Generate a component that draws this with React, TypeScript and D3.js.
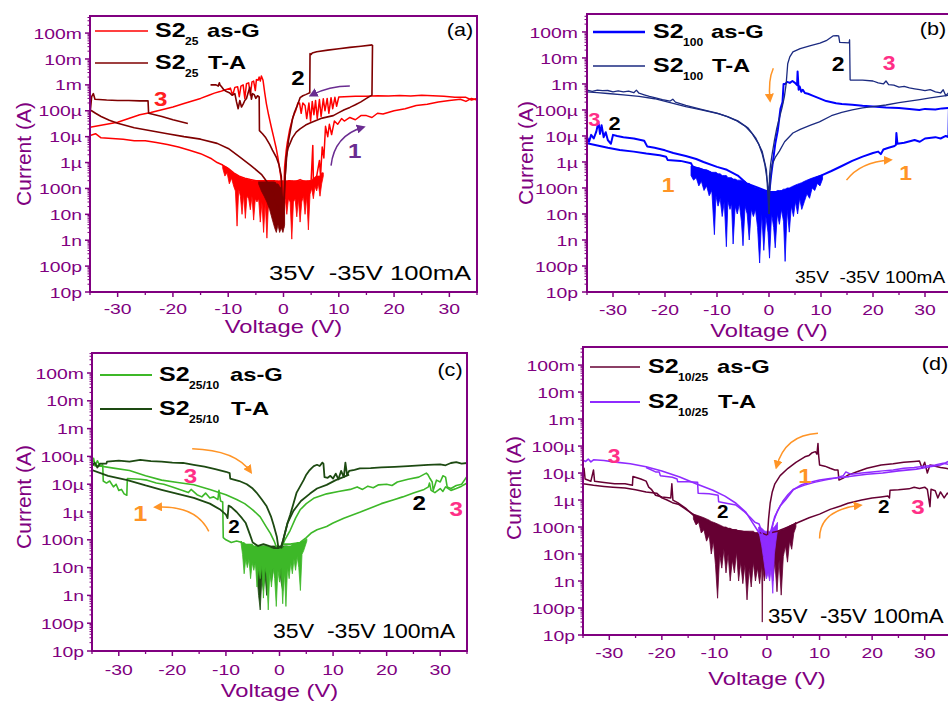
import * as d3 from "d3";

type P = [number, number];
type B = [number, number, number];

// ---------- (a) S2_25 ----------
const aG1: P[] = [[0.3,1.5e-7],[1,2e-7],[2,1.8e-7],[3,2.2e-7],[4,1.8e-7],[5,2e-7],[5.3,4.6e-6],[5.4,2.2e-7],[6,3e-7],[6.5,1.2e-6],[6.7,3e-7],[7,4e-6],[7.3,1.5e-6],[7.6,2.5e-5],[8,1e-5],[8.3,3e-5],[8.7,1.2e-5],[9.2,4e-5],[9.8,3e-5],[10.5,5e-5],[11,4e-5],[12,5.5e-5],[13,4.5e-5],[14,6.5e-5],[15,6.5e-5],[16,5.5e-5],[17,8e-5],[18,7.5e-5],[20,1e-4],[22,1.2e-4],[24,1.6e-4],[26,1.8e-4],[28,2.2e-4],[30,2.5e-4],[32,2.8e-4],[33,2.3e-4],[34,3e-4],[35,2.6e-4]];
const aG2: P[] = [[35,3e-4],[34,2.6e-4],[33,3.3e-4],[31,3.3e-4],[29,3.6e-4],[27,3.8e-4],[25,4e-4],[23,3.7e-4],[21,3.9e-4],[19,3.7e-4],[17,3.8e-4],[15,3.6e-4],[13,3.6e-4],[11,3.5e-4],[10,3.4e-4],[9.6,1.5e-4],[9.3,3.3e-4],[8.9,1.2e-4],[8.6,3.2e-4],[8.2,8e-5],[7.9,3e-4],[7.5,1e-4],[7.2,2.9e-4],[6.8,6e-5],[6.5,2.7e-4],[6.1,5e-5],[5.8,2.5e-4],[5.5,7e-5],[5.2,2.3e-4],[4.9,4e-5],[4.6,2e-4],[4.2,5e-5],[3.9,1.6e-4],[3.5,2e-4],[3.2,8e-5],[2.9,2e-4],[2.6,2e-4],[2.2,1e-4],[1.7,5.7e-5],[1.1,1.8e-5],[0.7,6e-6],[0.5,3e-6],[0.2,7e-7],[0.05,5e-8]];
const aG3: P[] = [[-0.05,5e-8],[-0.5,3e-7],[-1,1.5e-6],[-1.3,3.4e-6],[-1.8,1e-5],[-2.2,2.3e-5],[-2.7,7e-5],[-3.1,1.9e-4],[-3.4,5e-4],[-3.7,1.5e-3],[-4,2.2e-3],[-4.2,1.4e-3],[-4.4,2e-3],[-4.6,1.5e-3],[-4.9,1.6e-3],[-5.1,6e-4],[-5.4,1.4e-3],[-5.7,1.3e-3],[-6,4e-4],[-6.3,1.2e-3],[-6.7,1.1e-3],[-7,3e-4],[-7.3,1e-3],[-7.7,9e-4],[-8,3.5e-4],[-8.3,8.5e-4],[-8.8,8e-4],[-9.2,4e-4],[-9.6,7.5e-4],[-10.5,6.5e-4],[-11.5,5.5e-4],[-12.5,4.8e-4],[-13.5,4e-4],[-15,3e-4],[-16.5,2.4e-4],[-18,1.9e-4],[-20,1.4e-4],[-22,1.1e-4],[-24,8.5e-5],[-26,7e-5],[-28,5e-5],[-30,3.6e-5],[-32,3e-5],[-34,2.5e-5],[-35,2.3e-5]];
const aG4: P[] = [[-35,1.1e-5],[-34,1.3e-5],[-33,9e-6],[-31,8.5e-6],[-29,8e-6],[-27,7e-6],[-25,7e-6],[-23,6e-6],[-21,5e-6],[-19,4e-6],[-17,3e-6],[-15,2.2e-6],[-13,1.4e-6],[-12,1e-6],[-11,8e-7],[-10,6e-7],[-9,4e-7],[-8,3e-7],[-7,2.5e-7],[-6,2.2e-7],[-5,2e-7],[-4,2e-7],[-3,2e-7],[-2,2e-7],[-1,1.8e-7],[0,1.5e-7]];
const aGBand: B[] = [[-11,8e-7,6e-7],[-10.6,7e-7,3e-7],[-10.2,6.5e-7,4e-7],[-9.8,5.5e-7,1.5e-7],[-9.4,4.5e-7,2.5e-7],[-9,4e-7,1.2e-7],[-8.7,3.5e-7,8e-8],[-8.4,3.2e-7,3.5e-9],[-8.1,3e-7,9e-8],[-7.8,2.8e-7,5e-8],[-7.5,2.6e-7,1e-8],[-7.2,2.5e-7,6e-8],[-6.9,2.4e-7,7e-9],[-6.6,2.3e-7,5e-8],[-6.3,2.2e-7,4e-8],[-6,2.2e-7,1.5e-8],[-5.7,2e-7,5e-8],[-5.4,2e-7,6e-9],[-5.1,2e-7,4e-8],[-4.8,2e-7,3e-8],[-4.5,2e-7,4e-8],[-4.2,2e-7,5e-9],[-3.9,2e-7,3e-8],[-3.6,2e-7,2e-9],[-3.3,2e-7,3e-8],[-3,2e-7,1.2e-9],[-2.7,2e-7,3e-8],[-2.4,2e-7,2e-8],[-2.1,2e-7,4e-8],[-1.8,2e-7,3e-8],[-1.5,2e-7,1e-8],[-1.2,2e-7,3e-8],[-0.9,2e-7,2e-8],[-0.6,2e-7,4e-8],[-0.3,2e-7,2e-8],[0,2e-7,3e-8],[0.3,2e-7,4e-8],[0.6,2e-7,1e-8],[0.9,2e-7,4e-8],[1.2,2e-7,3e-8],[1.5,2e-7,1.1e-9],[1.8,2e-7,3e-8],[2.1,2e-7,4e-8],[2.4,2e-7,8e-9],[2.7,2e-7,4e-8],[3,2e-7,5e-9],[3.3,2e-7,3e-8],[3.6,2e-7,5e-8],[3.9,2e-7,1e-8],[4.2,2e-7,5e-8],[4.5,2e-7,2.5e-9],[4.8,2e-7,6e-8],[5.1,2e-7,1e-7],[5.4,2.5e-7,4e-8],[5.7,2.5e-7,1.2e-7],[6,3e-7,8e-8],[6.3,3e-7,1.5e-7],[6.6,3e-7,5e-8],[6.9,4e-7,1.5e-7],[7.2,4e-7,3e-7]];
const aT1: P[] = [[0.05,3e-8],[0.3,3e-7],[0.5,1.6e-6],[0.8,3.5e-6],[1.1,5e-6],[1.6,9e-6],[2.3,1.5e-5],[3,2e-5],[4,2.8e-5],[5,3.5e-5],[6,4.3e-5],[7,5.2e-5],[8,5.8e-5],[9,6.5e-5],[10,8.5e-5],[11,1.1e-4],[12,1.35e-4],[13,1.7e-4],[14,2.2e-4],[15,3e-4],[16,4e-4],[16.1,3.5e-2]];
const aT2: P[] = [[16.1,3.5e-2],[14,3.1e-2],[12,2.8e-2],[10,2.5e-2],[8,2.2e-2],[6,1.9e-2],[5.2,1.7e-2],[5,1.5e-2],[4.8,1.6e-2],[4.75,5e-4],[4.4,4.6e-4],[4,4.2e-4],[3.5,3.8e-4],[3,3.2e-4],[2.5,1.6e-4],[2,9e-5],[1.6,4.5e-5],[1.2,1.5e-5],[0.9,7e-6],[0.6,2e-6],[0.3,3e-7],[0.1,2e-8],[0,3e-9]];
const aT3: P[] = [[-0.05,4e-9],[-0.4,3e-7],[-0.8,8e-7],[-1.3,1.6e-6],[-2,3e-6],[-2.5,5e-6],[-3.2,9e-6],[-3.8,1.3e-5],[-4.35,1.7e-5],[-4.4,3.4e-4],[-4.7,3.8e-4],[-5,3e-4],[-5.3,4.2e-4],[-5.6,4.6e-4],[-5.8,2.8e-4],[-6.1,8e-4],[-6.4,5e-4],[-6.7,3e-4],[-7,2.5e-4],[-7.3,1.8e-4],[-7.6,1.4e-4],[-7.9,2.5e-4],[-8.2,1.2e-4],[-8.5,2.2e-4],[-8.8,4.6e-4],[-9.3,4e-4],[-9.8,5e-4],[-10.3,5.5e-4],[-10.8,6.5e-4],[-11.2,8.5e-4],[-11.5,1e-3],[-11.6,1.2e-3],[-11.8,9e-4],[-12.2,1e-3],[-13.2,1e-3]];
const aT4: P[] = [[-35,3e-4],[-34.9,1.2e-4],[-34.7,3.5e-4],[-34.4,4.6e-4],[-34.1,2.8e-4],[-32,2.6e-4],[-30,2.5e-4],[-28,2.5e-4],[-26,2.4e-4],[-24.5,2.4e-4],[-24.4,8e-5],[-22,6e-5],[-20,4.5e-5],[-17.3,3.2e-5]];
const aT5: P[] = [[-35,1.1e-4],[-34,8e-5],[-33,6e-5],[-31.5,4.3e-5],[-30,3.3e-5],[-27,2.2e-5],[-24,1.7e-5],[-21,1.3e-5],[-18,1e-5],[-15,8e-6],[-12,5.5e-6],[-10,3.5e-6],[-8,1.7e-6],[-6,8e-7],[-4,3.5e-7],[-3,1.8e-7],[-2,8e-8],[-1.2,2.5e-8],[-0.6,6e-9],[0,3e-9]];
const aTBand: B[] = [[-4.5,2e-7,1.5e-7],[-4,2e-7,8e-8],[-3.5,2e-7,5e-8],[-3,2e-7,3e-8],[-2.5,2e-7,1.5e-8],[-2,2e-7,6e-9],[-1.6,2e-7,3e-9],[-1.3,1.5e-7,2e-9],[-1,1.5e-7,4e-9],[-0.7,1.2e-7,2e-9],[-0.4,1e-7,3e-9],[-0.1,5e-8,2e-9],[0.2,2e-8,4e-9]];

// ---------- (b) S2_100 ----------
const bG1: P[] = [[0,7e-8],[2,7e-8],[4,9e-8],[6,1.3e-7],[8,2e-7],[10,3e-7],[12,4.5e-7],[14,7e-7],[16,1.1e-6],[18,1.6e-6],[20,2.2e-6],[21,2.5e-6],[21.5,2e-6],[22,3e-6],[23,3.5e-6],[24,4e-6],[24.4,4.5e-6],[24.5,1.3e-5],[24.7,5e-6],[26,5.5e-6],[28,7e-6],[29,6e-6],[30,8e-6],[32,9e-6],[33,8e-6],[34,1e-5],[34.5,9e-6],[34.6,1.2e-4]];
const bG2: P[] = [[34.6,1.2e-4],[33.3,1.15e-4],[32,1.05e-4],[30,1.1e-4],[28.9,1e-4],[27,1.1e-4],[25,1.2e-4],[22.5,1.25e-4],[20,1.35e-4],[18,1.45e-4],[16,1.6e-4],[14,1.7e-4],[12.9,1.8e-4],[11,2.2e-4],[9.7,2.8e-4],[8.5,3.5e-4],[7.5,4.2e-4],[6.9,4.5e-4],[6.5,6e-4],[6.2,5e-4],[5.9,8e-4],[5.7,6e-4],[5.5,3e-3],[5.4,9e-4],[5,1.1e-3],[4.5,1.3e-3],[4,1.1e-3],[3.5,1.2e-3],[3.1,1e-3],[2.8,1e-3],[2.6,2e-4],[2.2,1.1e-4],[1.7,1.7e-5],[1.2,5e-6],[0.8,1.2e-6],[0.4,3e-7],[0.1,8e-8]];
const bG3: P[] = [[0,7e-8],[-2,8e-8],[-4,1.1e-7],[-6,1.6e-7],[-8,2.2e-7],[-9.6,2.7e-7],[-12,4.5e-7],[-14,6e-7],[-14.7,6.6e-7],[-15,9e-7],[-17,1.1e-6],[-19.5,1.2e-6],[-19.8,1.6e-6],[-21,1.8e-6],[-23.6,2.1e-6],[-26,2.5e-6],[-28.7,2.9e-6],[-31,3.5e-6],[-33,4.3e-6],[-35,5.2e-6]];
const bG4: P[] = [[-35,9e-6],[-34.6,6e-6],[-34.2,1.1e-5],[-33.7,8e-6],[-33.2,1.5e-5],[-32.8,3.5e-5],[-32.5,1.2e-5],[-32.2,2.6e-5],[-31.8,9e-6],[-31.4,1.4e-5],[-31,7e-6],[-30.4,5e-6],[-30,1.1e-5],[-29.2,1e-5],[-28,9e-6],[-26,8e-6],[-24,6.5e-6],[-23.4,3.9e-6],[-22,3.5e-6],[-20,2.8e-6],[-18.4,2.2e-6],[-16,1.7e-6],[-14,1.3e-6],[-12.6,1e-6],[-10,6.5e-7],[-8.1,5e-7],[-6,3e-7],[-4.3,1.5e-7],[-2,1e-7],[0,7e-8]];
const bGBand: B[] = [[-15,7e-7,3e-7],[-14.5,7e-7,2e-7],[-14,6e-7,2.5e-7],[-13.5,6e-7,1.2e-7],[-13,5.5e-7,1.8e-7],[-12.5,5e-7,8e-8],[-12,5e-7,1.2e-7],[-11.5,4.5e-7,5e-8],[-11,4e-7,8e-8],[-10.5,4e-7,1.6e-9],[-10.2,4e-7,5e-8],[-9.8,3.5e-7,2e-8],[-9.4,3.5e-7,4e-8],[-9,3e-7,8e-9],[-8.6,3e-7,3e-8],[-8.2,3e-7,5.5e-10],[-7.9,2.5e-7,3e-8],[-7.5,2.5e-7,1.5e-8],[-7.2,2.5e-7,2.5e-8],[-6.9,2.2e-7,7e-10],[-6.5,2.2e-7,2e-8],[-6.1,2e-7,1e-8],[-5.7,2e-7,2.5e-8],[-5.3,2e-7,5e-9],[-5,1.8e-7,6e-10],[-4.6,1.8e-7,2e-8],[-4.2,1.5e-7,1e-8],[-3.8,1.5e-7,1e-9],[-3.4,1.2e-7,1.5e-8],[-3,1.2e-7,8e-9],[-2.6,1e-7,1.5e-8],[-2.2,1e-7,3e-9],[-1.8,9e-8,1.3e-10],[-1.4,8e-8,1e-8],[-1,8e-8,4e-10],[-0.6,7e-8,8e-9],[-0.2,7e-8,2e-9],[0.1,7e-8,2e-10],[0.5,7e-8,1e-8],[0.9,7e-8,3e-9],[1.2,7e-8,5e-10],[1.6,8e-8,1e-8],[2,8e-8,4e-9],[2.4,8e-8,1.5e-8],[2.8,9e-8,5e-9],[3.1,9e-8,1.5e-10],[3.5,1e-7,1.5e-8],[3.9,1e-7,2e-9],[4.3,1.1e-7,2e-8],[4.7,1.2e-7,8e-9],[5.1,1.3e-7,3e-8],[5.5,1.4e-7,1e-8],[5.9,1.5e-7,4e-8],[6.3,1.6e-7,1.5e-8],[6.8,1.8e-7,3e-8],[7.3,2e-7,6e-8],[7.8,2.2e-7,4e-8],[8.3,2.4e-7,1e-7],[8.8,2.6e-7,8e-8],[9.3,2.8e-7,1.5e-7],[9.8,3e-7,1.2e-7],[10.3,3.2e-7,2.2e-7]];
const bT1: P[] = [[0,1e-8],[0.1,3e-7],[0.3,8e-7],[0.6,2e-6],[1,6e-6],[1.5,2e-5],[2,5e-5],[2.5,1.2e-4],[2.95,3.2e-4],[3.3,1e-3],[3.6,6e-3],[4,1.1e-2],[4.6,1.7e-2],[6,2.3e-2],[8,3e-2],[9.8,3.7e-2],[11,4.6e-2],[12.3,7e-2],[13,7.2e-2],[13.4,7e-2],[13.6,4e-2],[15.4,3.8e-2],[15.5,5e-2],[15.6,1.4e-3]];
const bT2: P[] = [[15.6,1.4e-3],[18,1.4e-3],[20,1.3e-3],[21,1.1e-3],[22,1e-3],[22.5,1.3e-3],[23,9.5e-4],[24,9e-4],[25,7.5e-4],[26,8e-4],[27,7e-4],[28,6.5e-4],[29,6e-4],[30,5.5e-4],[31,6e-4],[32,5e-4],[33,4.5e-4],[33.5,6e-4],[34,3.5e-4],[34.5,4.5e-4],[35,3.5e-4]];
const bT3: P[] = [[35,3.8e-4],[33,3.3e-4],[31,2.9e-4],[29,2.5e-4],[27,2.2e-4],[25,1.9e-4],[22.5,1.55e-4],[20,1.35e-4],[18,1.2e-4],[16,1e-4],[14,8e-5],[12,6e-5],[9.7,3.5e-5],[8,2.6e-5],[6,1.8e-5],[4.6,1.3e-5],[3,6e-6],[2,2.6e-6],[1.2,1.5e-6],[0.6,8e-7],[0.3,3e-7],[0.1,5e-8],[0,1e-8]];
const bT4: P[] = [[0,1e-8],[-0.1,1e-7],[-0.35,2e-7],[-0.8,8e-7],[-1.3,2e-6],[-2,5e-6],[-3.2,1.2e-5],[-4.5,2.3e-5],[-6.4,4e-5],[-8,5.5e-5],[-9.6,7e-5],[-13,1e-4],[-16,1.35e-4],[-19,1.9e-4],[-22,2.7e-4],[-25,3.3e-4],[-28,3.8e-4],[-31,4.3e-4],[-33,4.6e-4],[-35,5e-4]];
const bT5: P[] = [[-35,5.8e-4],[-34,5.2e-4],[-33,5.8e-4],[-32,5.5e-4],[-31,5.6e-4],[-30,5e-4],[-29,5.4e-4],[-28,5e-4],[-27,5.3e-4],[-26,4.6e-4],[-25.5,5.8e-4],[-25,4.4e-4],[-24,3.8e-4],[-23,3.3e-4],[-22,3e-4],[-20.5,2.5e-4],[-19,2.2e-4],[-18.5,2.6e-4],[-18,2e-4],[-16,1.5e-4],[-13,1.05e-4],[-10,7.5e-5],[-8,5.5e-5],[-6,3.8e-5],[-4,2e-5],[-2.5,8e-6],[-1.3,2.5e-6],[-0.5,5e-7],[0,1e-8]];

// ---------- (c) S2_25/10 ----------
const cG1: P[] = [[-35,5e-5],[-31,3.8e-5],[-28,3.1e-5],[-25,2e-5],[-22,1.4e-5],[-19,1.15e-5],[-16,9.5e-6],[-13,6.5e-6],[-10,4.2e-6],[-8,2.8e-6],[-6.5,2e-6],[-5,1.2e-6],[-3.6,6.7e-7],[-2.5,3e-7],[-1.7,1.7e-7],[-1,9e-8],[-0.5,5e-8]];
const cG2: P[] = [[0.3,5e-8],[1,1e-7],[2,2.2e-7],[3,6e-7],[3.85,1.2e-6],[5,2e-6],[6.5,3.2e-6],[8.8,4.5e-6],[11,5.5e-6],[13.2,6.5e-6],[14.5,8e-6],[15.5,6.5e-6],[16.5,8.5e-6],[17.5,7.5e-6],[18.5,9.5e-6],[20,1e-5],[21,9e-6],[22,1.2e-5],[24,1.5e-5],[26,1.8e-5],[27.4,2.5e-5],[27.7,2.2e-5],[28.1,1.6e-5],[28.5,1.2e-5],[28.7,6e-6],[29.3,1.4e-5],[30,1.2e-5],[30.5,2e-5],[31,1.8e-5],[31.3,8e-6],[32,7e-6],[33,9e-6],[34,1e-5],[35,1.9e-5]];
const cG3: P[] = [[0.5,7e-8],[2,7e-8],[3.85,8e-8],[5,1.2e-7],[6,1.8e-7],[7,2.3e-7],[8.8,3e-7],[10,4e-7],[12,6e-7],[15.1,1e-6],[17,1.4e-6],[19,2e-6],[21.2,2.7e-6],[23,3.5e-6],[25,4.8e-6],[27,6.5e-6],[27.8,8e-6],[28,1.1e-5],[28.3,6e-6],[29,5e-6],[30,7e-6],[30.5,5.5e-6],[31,8e-6],[32,6e-6],[33,7e-6],[34,8.5e-6],[35,1.1e-5]];
const cG4: P[] = [[-35,6e-5],[-34.7,8.5e-5],[-34.4,4.5e-5],[-34,7e-5],[-33.5,4.5e-5],[-33,5e-5],[-32.9,1.3e-5],[-32.3,1.1e-5],[-31.7,1.3e-5],[-31,8e-6],[-30.5,1e-5],[-30,6e-6],[-29.5,6.5e-6],[-29,4.5e-6],[-28.5,4e-6],[-28.4,1.6e-5],[-26,1.5e-5],[-24.7,1.4e-5],[-23,1.1e-5],[-21.6,1e-5],[-20,8e-6],[-18.5,6.3e-6],[-17,5e-6],[-16.5,6.5e-6],[-15.4,4.2e-6],[-14.5,3.5e-6],[-13.8,4.8e-6],[-13,3.2e-6],[-12.3,3.5e-6],[-11.5,2.8e-6],[-11.3,6e-6],[-11,2.5e-6],[-10.6,2.3e-6],[-10.5,1.2e-7],[-10,1e-7],[-9,8e-8],[-8,9e-8],[-7,8e-8]];
const cGBand: B[] = [[-7.2,9e-8,8e-8],[-6.9,8e-8,3e-8],[-6.6,8e-8,6e-9],[-6.3,7e-8,2e-8],[-6,7e-8,1e-8],[-5.7,7e-8,2e-8],[-5.4,7e-8,4e-9],[-5.1,7e-8,1.5e-8],[-4.8,6e-8,8e-9],[-4.5,6e-8,1.5e-8],[-4.2,6e-8,2e-9],[-3.9,6e-8,1e-8],[-3.6,6e-8,4e-9],[-3.3,6e-8,1.2e-8],[-3,6e-8,8e-10],[-2.7,6e-8,1e-8],[-2.4,6e-8,5e-9],[-2.1,6e-8,3e-10],[-1.8,6e-8,8e-9],[-1.5,5e-8,2e-9],[-1.2,5e-8,1e-8],[-0.9,5e-8,4e-9],[-0.6,5e-8,4e-10],[-0.3,5e-8,8e-9],[0,5e-8,3e-9],[0.3,5e-8,1e-8],[0.6,5e-8,5e-10],[0.9,6e-8,8e-9],[1.2,6e-8,4e-10],[1.5,6e-8,1e-8],[1.8,6e-8,4e-9],[2.1,6e-8,1.5e-8],[2.4,7e-8,6e-9],[2.7,7e-8,2e-8],[3,7e-8,8e-9],[3.3,8e-8,2.5e-8],[3.6,8e-8,1e-8],[3.9,8e-8,1.5e-9],[4.2,9e-8,3e-8],[4.5,9e-8,4e-8],[4.8,1e-7,6e-8],[5.1,1.1e-7,9e-8]];
const cT1: P[] = [[-35,3.2e-5],[-32,2e-5],[-28.4,1.4e-5],[-25,9e-6],[-22,6.3e-6],[-19,4.5e-6],[-16,3.2e-6],[-13,2e-6],[-11,1.2e-6],[-10,8e-7],[-9.7,6e-7],[-9.5,1.7e-6],[-9,1.5e-6],[-8,1e-6],[-7,6e-7],[-6.3,4e-7],[-5.5,1.5e-7],[-5,8e-8],[-4,6e-8],[-3,7e-8],[-2,6e-8],[-1,5e-8],[0,5e-8]];
const cT2: P[] = [[-35,4.5e-5],[-34.5,6e-5],[-34,4e-5],[-33.5,5.5e-5],[-32.3,5.5e-5],[-32.2,6.5e-5],[-30,7e-5],[-28,6.5e-5],[-26,7.5e-5],[-24,6.8e-5],[-22,6.5e-5],[-20,6e-5],[-18,5.8e-5],[-16,5e-5],[-14,4.3e-5],[-12,3.5e-5],[-10,2.8e-5],[-9.3,2.5e-5],[-9.2,1.6e-5],[-7.5,1.3e-5],[-6.1,1e-5],[-5,7e-6],[-4.3,5e-6],[-3.3,2.8e-6],[-2.4,1.6e-6],[-1.6,7e-7],[-1.1,3.4e-7],[-0.5,1.3e-7],[-0.2,5e-8]];
const cT3: P[] = [[0.2,5e-8],[0.7,1e-7],[1.5,4e-7],[2,8e-7],[2.6,2e-6],[3.2,5e-6],[3.8,8e-6],[4.5,1.4e-5],[5,2.2e-5],[5.5,3e-5],[6,3.8e-5],[6.4,4.5e-5],[7,5e-5],[7.5,4.5e-5],[8,6e-5],[8.2,5.5e-5],[8.4,1.8e-5],[9,1.7e-5],[9.5,2e-5],[10,1.6e-5],[10.5,2.4e-5],[11,1.5e-5],[11.5,3e-5],[12,1.8e-5],[12.3,6e-5],[12.6,2.2e-5],[13,3e-5],[14,3.3e-5],[15,3.7e-5],[17,3.8e-5],[19,4e-5],[21.5,4.2e-5],[24,4.5e-5],[27.7,5e-5],[30,5.2e-5],[31,4.8e-5],[32,5.8e-5],[33,6.2e-5],[34,5.5e-5],[35,5.8e-5]];
const cT4: P[] = [[0.3,5e-8],[0.7,1e-7],[1.5,4e-7],[2.6,1.1e-6],[4,2.5e-6],[5.7,4.6e-6],[7,7e-6],[8.8,9.5e-6],[10.5,1.4e-5],[11.9,1.8e-5],[13,2.2e-5]];
const cTBand: B[] = [[-4.5,6e-8,3e-8],[-4.2,6e-8,5e-9],[-3.9,6e-8,1e-9],[-3.6,6e-8,3e-10],[-3.3,6e-8,4e-9],[-3,6e-8,1.5e-9],[-2.7,6e-8,6e-9],[-2.4,6e-8,1e-9],[-2.1,6e-8,4e-9],[-1.8,6e-8,1e-8],[-1.5,6e-8,3e-9],[-1.2,6e-8,8e-9],[-0.9,6e-8,2e-8],[-0.6,6e-8,5e-9],[-0.3,6e-8,2e-8],[0,6e-8,1e-8],[0.3,6e-8,3e-9],[0.6,6e-8,1.5e-9],[0.9,6e-8,1e-8],[1.2,6e-8,3e-9],[1.5,6e-8,2e-8]];

// ---------- (d) S2_10/25 ----------
const dG1: P[] = [[0.1,5e-8],[0.3,2e-7],[0.6,7.6e-7],[1,2e-6],[1.5,4e-6],[2.5,8e-6],[4,1.5e-5],[5.5,2.5e-5],[7.2,4e-5],[8,4.5e-5],[8.5,5.5e-5],[9.2,6.2e-5],[9.5,5e-5],[9.7,1.25e-4],[9.8,5e-5],[10,2e-5],[11,1.8e-5],[12,1.5e-5],[12.9,1.3e-5],[13.5,1.3e-5],[13.7,5.5e-6],[14.5,6.5e-6],[15.4,8.4e-6],[17,1.1e-5],[19,1.5e-5],[21.7,2e-5],[24,2.2e-5],[26,2.5e-5],[28,2.7e-5],[29,2.8e-5],[29.5,1.5e-5],[30,2.5e-5],[30.5,1e-5],[31,2e-5],[32,1.8e-5],[33,1.6e-5],[34,1.5e-5],[35,1.4e-5]];
const dG2: P[] = [[0.5,6e-8],[2,7e-8],[4,1e-7],[6,1.5e-7],[8,2.2e-7],[10,3e-7],[12,4.5e-7],[14,6e-7],[15.4,7.6e-7],[18,1e-6],[20,1.2e-6],[21.7,1.3e-6],[23,1.4e-6],[23.3,1.2e-6],[23.4,2.3e-6],[25,2.4e-6],[27,2.6e-6],[28,3e-6],[29,2.7e-6],[30,3e-6],[30.5,2.5e-6],[31,5.7e-7],[31.2,2.5e-6],[32,2.2e-6],[32.5,1.2e-6],[33,2e-6],[33.7,1.2e-6],[34.3,1.8e-6],[35,1.5e-6]];
const dG3: P[] = [[-35,6e-6],[-34.8,1.5e-5],[-34.6,6e-6],[-33.5,5e-6],[-33,1.3e-5],[-32.8,5e-6],[-31,4.5e-6],[-29,4e-6],[-27,4e-6],[-25.6,3.5e-6],[-25.5,7.5e-6],[-24,6e-6],[-23,5e-6],[-22.5,3e-6],[-22,2.5e-6],[-21.2,1.5e-6],[-20,1.3e-6],[-18.3,1.2e-6],[-18.1,4e-6],[-17.9,1e-6],[-17,8e-7],[-15.5,5e-7],[-13.7,2.4e-7],[-12,1.7e-7],[-10.6,1.2e-7],[-8,9e-8],[-5,7e-8],[-3,6e-8],[-1,6e-8],[0,5e-8]];
const dG4: P[] = [[-35,4e-6],[-33,3.5e-6],[-31,3.2e-6],[-29.3,3e-6],[-27,2.8e-6],[-25,2.4e-6],[-23,2e-6],[-21,1.8e-6],[-20,1.2e-6],[-19,1e-6],[-18,8e-7],[-16.9,7e-7],[-15,4e-7],[-13,2.2e-7],[-11,1.4e-7],[-9,1e-7],[-7,8e-8],[-5,7e-8],[-3,6e-8]];
const dGBand: B[] = [[-14,3e-7,2e-7],[-13.5,2.8e-7,1.2e-7],[-13,2.6e-7,1.5e-7],[-12.5,2.4e-7,6e-8],[-12,2.2e-7,8e-8],[-11.5,2e-7,3e-8],[-11,1.8e-7,5e-8],[-10.6,1.6e-7,1e-8],[-10.2,1.5e-7,3e-8],[-9.8,1.4e-7,4e-9],[-9.4,1.3e-7,2.3e-10],[-9,1.2e-7,1e-8],[-8.6,1.1e-7,3e-9],[-8.2,1e-7,1.5e-8],[-7.8,1e-7,2e-9],[-7.4,9e-8,1e-8],[-7,9e-8,1e-9],[-6.6,8e-8,6e-9],[-6.2,8e-8,2e-9],[-5.8,8e-8,1.2e-8],[-5.4,7e-8,1e-9],[-5,7e-8,5e-9],[-4.6,7e-8,8e-10],[-4.2,7e-8,4e-9],[-3.8,7e-8,2e-10],[-3.4,7e-8,3e-9],[-3,7e-8,6e-10],[-2.6,7e-8,5e-9],[-2.2,6e-8,1e-9],[-1.8,6e-8,3e-9],[-1.4,6e-8,8e-10],[-1,6e-8,4e-9],[-0.9,6e-8,3e-11],[-0.8,6e-8,3e-9],[-0.5,6e-8,1e-9],[-0.1,6e-8,4e-9],[0.3,6e-8,2e-9],[0.7,6e-8,8e-9],[1.1,6e-8,1e-9],[1.5,7e-8,5e-9],[1.9,7e-8,4e-10],[2.3,7e-8,6e-9],[2.7,8e-8,3e-10],[3.1,8e-8,8e-9],[3.5,9e-8,2e-8],[3.9,1e-7,5e-9],[4.3,1.1e-7,3e-8],[4.7,1.2e-7,1.5e-8],[5.1,1.3e-7,6e-8],[5.5,1.5e-7,1e-7]];
const dT1: P[] = [[-35,3e-5],[-34.5,2.7e-5],[-34,3.3e-5],[-33.5,2.6e-5],[-33,3.1e-5],[-31,2.9e-5],[-29.2,2.6e-5],[-26,2.2e-5],[-23,1.7e-5],[-20,1.2e-5],[-16.6,7.2e-6],[-13.5,4e-6],[-10.3,2.3e-6],[-8,1.4e-6],[-5.9,7.6e-7],[-4,3.5e-7],[-2.7,1.4e-7],[-1.7,7e-8],[-1.1,4.4e-8],[-0.4,1.5e-8],[0,5e-9]];
const dT2: P[] = [[0,5e-9],[0.3,2e-8],[0.8,8e-8],[1.5,2.5e-7],[2.5,6e-7],[3.5,1e-6],[5,2.4e-6],[6.6,3.7e-6],[8,4.5e-6],[10,5.5e-6],[12,6.3e-6],[15.6,7.4e-6],[19,9e-6],[22,1e-5],[25,1.2e-5],[28.4,1.4e-5],[31,1.7e-5],[33,2e-5],[34,2.4e-5],[35,3e-5]];
const dT3: P[] = [[0.5,3e-8],[1.2,1.5e-7],[2,4e-7],[3,9e-7],[4,1.6e-6],[5,2.5e-6],[7,3.5e-6],[9,4.5e-6],[11,5.5e-6],[13,6.5e-6],[14.5,8e-6],[15,1.1e-5],[16,9e-6],[18,1e-5],[20,1.1e-5],[22,1.2e-5],[24,1.3e-5],[26,1.5e-5],[28,1.6e-5],[30,1.8e-5],[32,2e-5],[33.5,2.3e-5],[34.5,2.1e-5],[35,2.6e-5]];
const dT4: P[] = [[-23,1.6e-5],[-21.2,1.1e-5],[-20.5,1.1e-5],[-20.3,8e-6],[-18,7e-6],[-17.1,6e-6],[-17,4.8e-6],[-15,4.8e-6],[-13.2,4.6e-6],[-13.1,1.8e-6],[-11,1.7e-6],[-9.3,1.5e-6],[-9.2,8.7e-7],[-7.5,7.5e-7],[-5.9,6.5e-7],[-4.5,4e-7],[-3.3,2.4e-7],[-2.3,1.5e-7],[-1.5,1.3e-7],[-0.8,5e-8],[-0.3,1e-8]];
const dTBand: B[] = [[-1.6,1e-7,8e-8],[-1.3,1e-7,4e-8],[-1,9e-8,2e-8],[-0.7,8e-8,8e-9],[-0.4,7e-8,3e-9],[-0.1,7e-8,1.2e-9],[0.2,7e-8,2e-9],[0.5,7e-8,1e-9],[0.8,8e-8,3e-9],[1.1,9e-8,3.5e-10],[1.4,1e-7,1e-8],[1.7,1.2e-7,3e-8],[2,1.5e-7,8e-8]];

// ---------- axes ----------
const X_MAJOR = [-30, -20, -10, 0, 10, 20, 30];
const X_MINOR = [-35, -25, -15, -5, 5, 15, 25, 35];
const Y_MAJOR = [1e-11, 1e-10, 1e-9, 1e-8, 1e-7, 1e-6, 1e-5, 1e-4, 1e-3, 1e-2, 1e-1];
const Y_LABELS = ["10p", "100p", "1n", "10n", "100n", "1µ", "10µ", "100µ", "1m", "10m", "100m"];

const FONT = "'Liberation Sans', Arial, Helvetica, sans-serif";
const AXIS = "#800080";
const RED = "#FF0000", DRED = "#7F0000", BLUE = "#0000FF", NAVY = "#1B2A80";
const LGREEN = "#3DB828", DGREEN = "#1D4A12", MAROON = "#660033", VIOLET = "#8F2BFF";
const PINK = "#FF2F87", ORANGE = "#FF9426", APURPLE = "#6A2C91";

interface Curve { d: P[]; c: string; w: number }
interface Band { d: B[]; c: string }
interface Note { t: string; v: number; i: number; c: string; s: number }
interface Arrow { p: P[]; c: string }
interface Cfg {
  id: string; left: number; right: number; top: number; bottom: number; yTop: number;
  labelEnd: number; xLabelY: number; yTitleX: number; yTitleY: number; xTitleY: number;
  bands: Band[]; curves: Curve[]; notes: Note[]; arrows: Arrow[];
  leg: { x0: number; x1: number; rows: number[]; tx: number; sx: number; nx: number[]; sub: string;
    names: string[]; colors: string[]; widths: number[] };
  tag: { t: string; x: number; y: number };
  cond: { x: number; y: number; s: number; sx: number };
}

const panels: Cfg[] = [
  {
    id: "a", left: 90, right: 477, top: 16, bottom: 292, yTop: Math.pow(10, -0.34),
    labelEnd: 82, xLabelY: 314, yTitleX: 31, yTitleY: 154, xTitleY: 333,
    bands: [{ d: aGBand, c: RED }, { d: aTBand, c: DRED }],
    curves: [
      { d: aG1, c: RED, w: 1.5 }, { d: aG2, c: RED, w: 1.5 }, { d: aG3, c: RED, w: 1.5 }, { d: aG4, c: RED, w: 1.5 },
      { d: aT1, c: DRED, w: 1.6 }, { d: aT2, c: DRED, w: 1.6 }, { d: aT3, c: DRED, w: 1.6 }, { d: aT4, c: DRED, w: 1.6 }, { d: aT5, c: DRED, w: 1.6 },
    ],
    notes: [
      { t: "3", v: -22.2, i: 3e-4, c: "#FF2020", s: 21 },
      { t: "2", v: 2.6, i: 2e-3, c: "#000", s: 21 },
      { t: "1", v: 12.9, i: 3e-6, c: APURPLE, s: 21 },
    ],
    arrows: [
      { p: [[12, 9e-4], [8.3, 9e-4], [5, 4e-4]], c: APURPLE },
      { p: [[8.6, 7.6e-7], [9.2, 1.1e-5], [14.4, 2.3e-5]], c: APURPLE },
    ],
    leg: { x0: 95, x1: 148, rows: [31, 63], tx: 155, sx: 185, nx: [207, 208], sub: "25",
      names: ["as-G", "T-A"], colors: [RED, DRED], widths: [1.6, 1.6] },
    tag: { t: "(a)", x: 460, y: 36 },
    cond: { x: 269, y: 280, s: 21, sx: 1.22 },
  },
  {
    id: "b", left: 587, right: 951, top: 14, bottom: 292, yTop: Math.pow(10, -0.31),
    labelEnd: 578, xLabelY: 315, yTitleX: 533, yTitleY: 153, xTitleY: 337,
    bands: [{ d: bGBand, c: BLUE }],
    curves: [
      { d: bG1, c: BLUE, w: 2 }, { d: bG2, c: BLUE, w: 2 }, { d: bG3, c: BLUE, w: 2 }, { d: bG4, c: BLUE, w: 2 },
      { d: bT1, c: NAVY, w: 1.3 }, { d: bT2, c: NAVY, w: 1.3 }, { d: bT3, c: NAVY, w: 1.3 }, { d: bT4, c: NAVY, w: 1.3 }, { d: bT5, c: NAVY, w: 1.3 },
    ],
    notes: [
      { t: "3", v: -33.6, i: 4.4e-5, c: PINK, s: 19 },
      { t: "2", v: -29.7, i: 3.2e-5, c: "#000", s: 19 },
      { t: "1", v: -19.4, i: 1.3e-7, c: ORANGE, s: 20 },
      { t: "2", v: 13.3, i: 5.9e-3, c: "#000", s: 20 },
      { t: "3", v: 23.1, i: 6.6e-3, c: PINK, s: 20 },
      { t: "1", v: 26.3, i: 3.7e-7, c: ORANGE, s: 20 },
    ],
    arrows: [
      { p: [[0.83, 4e-3], [-0.2, 1.4e-3], [0.2, 2.4e-4]], c: ORANGE },
      { p: [[14.9, 2e-7], [17.5, 1e-6], [23.3, 1.2e-6]], c: ORANGE },
    ],
    leg: { x0: 593, x1: 645, rows: [32, 66], tx: 653, sx: 683, nx: [711, 712], sub: "100",
      names: ["as-G", "T-A"], colors: [BLUE, NAVY], widths: [2.4, 1.4] },
    tag: { t: "(b)", x: 933, y: 35 },
    cond: { x: 795, y: 283, s: 17, sx: 1.12 },
  },
  {
    id: "c", left: 92, right: 467, top: 353, bottom: 651, yTop: Math.pow(10, -0.28),
    labelEnd: 84, xLabelY: 675, yTitleX: 31, yTitleY: 497, xTitleY: 697,
    bands: [{ d: cTBand, c: DGREEN }, { d: cGBand, c: LGREEN }],
    curves: [
      { d: cG1, c: LGREEN, w: 1.6 }, { d: cG2, c: LGREEN, w: 1.6 }, { d: cG3, c: LGREEN, w: 1.6 }, { d: cG4, c: LGREEN, w: 1.6 },
      { d: cT1, c: DGREEN, w: 1.8 }, { d: cT2, c: DGREEN, w: 1.8 }, { d: cT3, c: DGREEN, w: 1.8 }, { d: cT4, c: DGREEN, w: 1.8 },
    ],
    notes: [
      { t: "3", v: -16.6, i: 2e-5, c: PINK, s: 21 },
      { t: "1", v: -26, i: 9.3e-7, c: ORANGE, s: 22 },
      { t: "2", v: -8.5, i: 3e-7, c: "#000", s: 18 },
      { t: "2", v: 26.1, i: 2.3e-6, c: "#000", s: 21 },
      { t: "3", v: 33, i: 1.35e-6, c: PINK, s: 21 },
    ],
    arrows: [
      { p: [[-16.3, 1.9e-4], [-8.2, 1.7e-4], [-5.4, 2.8e-5]], c: ORANGE },
      { p: [[-13.2, 2e-7], [-15.6, 1.8e-6], [-23.1, 1.5e-6]], c: ORANGE },
    ],
    leg: { x0: 100, x1: 152, rows: [375, 409], tx: 159, sx: 189, nx: [230, 231], sub: "25/10",
      names: ["as-G", "T-A"], colors: [LGREEN, DGREEN], widths: [1.8, 1.8] },
    tag: { t: "(c)", x: 450, y: 376 },
    cond: { x: 273, y: 638, s: 21, sx: 1.1 },
  },
  {
    id: "d", left: 583, right: 951, top: 347, bottom: 635, yTop: Math.pow(10, -0.33),
    labelEnd: 575, xLabelY: 658, yTitleX: 521, yTitleY: 488, xTitleY: 685,
    bands: [{ d: dGBand, c: MAROON }, { d: dTBand, c: VIOLET }],
    curves: [
      { d: dG1, c: MAROON, w: 1.5 }, { d: dG2, c: MAROON, w: 1.5 }, { d: dG3, c: MAROON, w: 1.5 }, { d: dG4, c: MAROON, w: 1.5 },
      { d: dT1, c: VIOLET, w: 1.6 }, { d: dT2, c: VIOLET, w: 1.6 }, { d: dT3, c: VIOLET, w: 1.4 }, { d: dT4, c: VIOLET, w: 1.5 },
    ],
    notes: [
      { t: "3", v: -29.1, i: 4.3e-5, c: PINK, s: 20 },
      { t: "2", v: -8.4, i: 3.9e-7, c: "#000", s: 18 },
      { t: "1", v: 7.2, i: 8.5e-6, c: ORANGE, s: 21 },
      { t: "2", v: 22.2, i: 5.6e-7, c: "#000", s: 18 },
      { t: "3", v: 28.7, i: 6e-7, c: PINK, s: 21 },
    ],
    arrows: [
      { p: [[9.7, 3e-4], [3.4, 2.6e-4], [1.8, 1.7e-5]], c: ORANGE },
      { p: [[10, 3.8e-8], [10, 4.3e-7], [17.7, 6.4e-7]], c: ORANGE },
    ],
    leg: { x0: 590, x1: 640, rows: [367, 402], tx: 648, sx: 678, nx: [717, 718], sub: "10/25",
      names: ["as-G", "T-A"], colors: [MAROON, VIOLET], widths: [1.6, 1.8] },
    tag: { t: "(d)", x: 935, y: 370 },
    cond: { x: 768, y: 623, s: 21, sx: 1.06 },
  },
];

function SText(props: { x: number; y: number; sx?: number; size: number; fill: string; weight?: string | number; anchor?: string; dy?: string; children: any }) {
  const { x, y, sx = 1.25, size, fill, weight = "normal", anchor = "start", dy, children } = props;
  return (
    <text transform={`translate(${x},${y}) scale(${sx},1)`} fontSize={size} fill={fill} fontWeight={weight}
      textAnchor={anchor} dy={dy} fontFamily={FONT} style={{ whiteSpace: "pre" }}>{children}</text>
  );
}

function PanelView({ p }: { p: Cfg }) {
  const x = d3.scaleLinear().domain([-35, 35]).range([p.left, p.right]);
  const y = d3.scaleLog().domain([1e-11, p.yTop]).range([p.bottom, p.top]);
  const line = d3.line<P>().x(d => x(d[0])).y(d => y(d[1]));
  const area = d3.area<B>().x(d => x(d[0])).y0(d => y(d[1])).y1(d => y(d[2]));
  const yMinor = Y_MAJOR.flatMap(m => d3.range(2, 10).map(k => k * m)).filter(v => v < p.yTop);
  const clipId = `clip-${p.id}`;
  const arrowPath = (a: P[]) =>
    `M${x(a[0][0])},${y(a[0][1])} Q${x(a[1][0])},${y(a[1][1])} ${x(a[2][0])},${y(a[2][1])}`;

  return (
    <g>
      <defs>
        <clipPath id={clipId}>
          <rect x={p.left} y={p.top} width={p.right - p.left} height={p.bottom - p.top} />
        </clipPath>
      </defs>
      <g clipPath={`url(#${clipId})`}>
        {p.bands.map((b, i) => (
          <path key={"b" + i} d={area(b.d) || ""} fill={b.c} stroke={b.c} strokeWidth={0.8} />
        ))}
        {p.curves.map((c, i) => (
          <path key={"c" + i} d={line(c.d) || ""} fill="none" stroke={c.c} strokeWidth={c.w} strokeLinejoin="round" />
        ))}
      </g>

      {/* frame and ticks */}
      <rect x={p.left} y={p.top} width={p.right - p.left} height={p.bottom - p.top} fill="none" stroke={AXIS} strokeWidth={2} />
      {X_MAJOR.map(v => (
        <g key={"xm" + v}>
          <line x1={x(v)} x2={x(v)} y1={p.bottom} y2={p.bottom + 5} stroke={AXIS} strokeWidth={1.5} />
          <SText x={x(v)} y={p.xLabelY} size={15.5} fill={AXIS} anchor="middle">{v < 0 ? "-" + Math.abs(v) : String(v)}</SText>
        </g>
      ))}
      {X_MINOR.map(v => (
        <line key={"xn" + v} x1={x(v)} x2={x(v)} y1={p.bottom} y2={p.bottom + 3} stroke={AXIS} strokeWidth={1.3} />
      ))}
      {Y_MAJOR.map((v, i) => (
        <g key={"ym" + i}>
          <line x1={p.left - 5} x2={p.left} y1={y(v)} y2={y(v)} stroke={AXIS} strokeWidth={1.5} />
          <SText x={p.labelEnd} y={y(v)} size={15.5} fill={AXIS} anchor="end" dy="0.36em">{Y_LABELS[i]}</SText>
        </g>
      ))}
      {yMinor.map((v, i) => (
        <line key={"yn" + i} x1={p.left - 2.5} x2={p.left} y1={y(v)} y2={y(v)} stroke={AXIS} strokeWidth={1} />
      ))}

      {/* axis titles */}
      <text transform={`translate(${p.yTitleX},${p.yTitleY}) rotate(-90)`} fontSize={21} fill={AXIS}
        textAnchor="middle" fontFamily={FONT}>Current (A)</text>
      <SText x={x(0)} y={p.xTitleY} size={19} fill={AXIS} anchor="middle">Voltage (V)</SText>

      {/* legend */}
      {p.leg.rows.map((ry, i) => (
        <g key={"lg" + i}>
          <line x1={p.leg.x0} x2={p.leg.x1} y1={ry} y2={ry} stroke={p.leg.colors[i]} strokeWidth={p.leg.widths[i]} />
          <SText x={p.leg.tx} y={ry + 6} size={20} fill="#000" weight="bold">S2</SText>
          <SText x={p.leg.sx} y={ry + 14} size={11} sx={1.1} fill="#000" weight="bold">{p.leg.sub}</SText>
          <SText x={p.leg.nx[i]} y={ry + 6} size={19} fill="#000" weight="bold">{p.leg.names[i]}</SText>
        </g>
      ))}

      {/* annotations */}
      {p.arrows.map((a, i) => (
        <path key={"ar" + i} d={arrowPath(a.p)} fill="none" stroke={a.c} strokeWidth={1.5}
          markerEnd={`url(#head-${a.c.slice(1)})`} />
      ))}
      {p.notes.map((n, i) => (
        <SText key={"n" + i} x={x(n.v)} y={y(n.i)} size={n.s} fill={n.c} weight="bold" anchor="middle" dy="0.36em" sx={1.15}>{n.t}</SText>
      ))}
      <SText x={p.tag.x} y={p.tag.y} size={18} fill="#000" anchor="middle" sx={1.2}>{p.tag.t}</SText>
      <SText x={p.cond.x} y={p.cond.y} size={p.cond.s} fill="#000" sx={p.cond.sx}>{"35V  -35V 100mA"}</SText>
    </g>
  );
}

export default function App() {
  const heads = [APURPLE, ORANGE];
  return (
    <svg width={948} height={702} viewBox="0 0 948 702"
      style={{ position: "absolute", left: 0, top: 0, background: "#fff" }}>
      <defs>
        {heads.map(c => (
          <marker key={c} id={`head-${c.slice(1)}`} viewBox="0 0 10 10" refX={7} refY={5}
            markerWidth={6} markerHeight={6} orient="auto">
            <path d="M0,0 L10,5 L0,10 z" fill={c} />
          </marker>
        ))}
      </defs>
      <rect width={948} height={702} fill="#fff" />
      {panels.map(p => <PanelView key={p.id} p={p} />)}
    </svg>
  );
}
